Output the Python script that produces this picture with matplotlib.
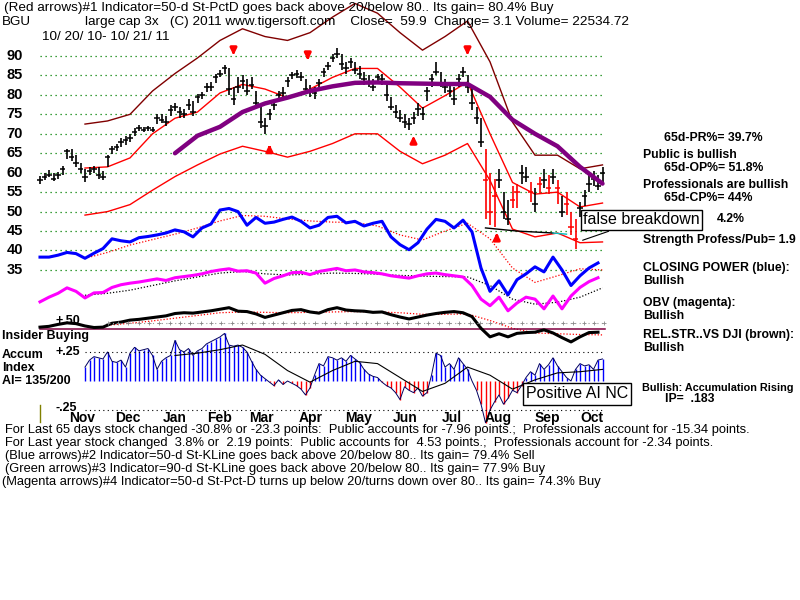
import numpy as np
import matplotlib
matplotlib.use('Agg')
import matplotlib.pyplot as plt

# ---- price bars, one bar per 2 trading days (10/20/10 - 10/21/11) ----
close = [58.0, 59.0, 59.5, 58.5, 59.5, 61.0, 65.5, 64.0, 62.5, 61.0,
         59.0, 60.5, 61.0, 59.5, 59.0, 64.0, 66.0, 66.5, 68.0, 68.5,
         69.0, 70.5, 71.5, 71.0, 71.5, 71.0, 74.0, 73.5, 73.0, 76.0,
         77.0, 75.5, 75.0, 77.5, 75.5, 79.5, 80.0, 82.0, 82.0, 84.5,
         85.5, 87.0, 81.5, 79.0, 82.0, 83.5, 81.0, 82.5, 78.0, 73.0,
         72.0, 75.0, 77.5, 80.0, 80.5, 83.5, 85.0, 85.5, 84.5, 81.5,
         81.0, 80.5, 83.0, 86.0, 87.5, 89.5, 90.5, 88.0, 87.0, 88.5,
         86.5, 85.5, 84.0, 83.0, 82.0, 84.5, 84.0, 80.0, 77.0, 75.5,
         74.0, 73.0, 72.5, 74.0, 76.5, 75.0, 81.0, 84.0, 86.0, 83.0,
         82.0, 81.0, 79.0, 84.0, 86.0, 82.0, 78.0, 74.0, 68.0, 58.0,
         50.0, 54.0, 58.0, 50.0, 48.0, 53.0, 55.0, 60.0, 59.0, 55.0,
         52.0, 57.0, 58.0, 56.0, 59.0, 56.0, 50.0, 52.0, 46.0, 43.0,
         51.0, 54.0, 57.0, 58.5, 56.5, 59.9]
high = [59.2, 60.0, 60.8, 59.8, 60.3, 61.8, 66.2, 66.0, 64.5, 62.5,
        61.0, 61.5, 61.8, 61.5, 60.5, 64.5, 66.8, 67.5, 68.8, 69.5,
        70.0, 71.5, 72.3, 71.8, 72.0, 71.8, 75.0, 75.2, 74.5, 77.3,
        78.0, 77.0, 76.5, 79.0, 78.5, 80.3, 80.8, 83.0, 83.3, 85.5,
        86.5, 87.8, 87.0, 82.0, 84.5, 85.0, 84.0, 84.5, 81.0, 77.0,
        74.0, 76.5, 78.5, 81.0, 82.0, 84.5, 86.0, 86.5, 86.0, 84.0,
        82.5, 82.0, 84.0, 87.0, 88.5, 90.5, 92.0, 90.5, 88.5, 89.5,
        88.5, 87.5, 86.0, 85.0, 84.0, 85.5, 85.5, 83.0, 79.5, 77.5,
        76.0, 75.0, 74.0, 75.5, 78.0, 77.0, 82.0, 85.5, 88.5, 86.0,
        84.0, 82.5, 82.0, 85.5, 87.3, 85.0, 82.0, 77.0, 74.0, 66.0,
        60.0, 58.5, 61.0, 55.0, 53.0, 56.5, 57.0, 62.0, 61.5, 57.5,
        56.0, 59.0, 61.0, 59.5, 61.0, 58.0, 54.0, 55.0, 50.0, 48.0,
        52.5, 55.5, 60.0, 60.5, 59.5, 61.5]
low = [57.0, 58.0, 58.8, 57.8, 58.5, 59.5, 63.5, 63.0, 61.5, 60.0,
       57.5, 59.5, 59.8, 58.5, 58.0, 61.5, 64.8, 65.5, 66.5, 67.2,
       68.0, 69.5, 70.8, 70.5, 70.8, 70.5, 72.5, 72.8, 72.0, 74.5,
       75.8, 74.0, 74.0, 76.0, 74.5, 78.0, 79.0, 80.8, 81.0, 83.0,
       84.5, 85.5, 80.0, 77.5, 80.5, 81.5, 80.0, 81.5, 77.0, 71.5,
       70.0, 73.5, 76.0, 78.5, 79.5, 82.0, 84.0, 84.3, 83.5, 80.5,
       79.5, 79.0, 81.5, 84.5, 86.5, 88.5, 89.5, 86.5, 85.5, 87.0,
       85.5, 84.0, 82.5, 82.0, 81.0, 83.0, 82.5, 78.5, 76.0, 74.0,
       73.0, 71.5, 71.0, 72.5, 74.5, 73.5, 78.5, 82.0, 85.0, 82.0,
       80.5, 79.5, 77.5, 82.0, 84.5, 80.5, 76.0, 72.5, 66.5, 48.0,
       46.5, 46.0, 56.0, 48.0, 46.5, 51.0, 51.0, 57.0, 57.5, 52.5,
       50.0, 54.5, 56.0, 54.5, 57.0, 52.0, 48.5, 49.0, 44.0, 40.3,
       48.5, 51.5, 55.0, 56.5, 55.5, 57.0]
red_bars = [99, 100, 101, 105, 106, 109, 111, 113, 115, 117, 118, 119]

# ---- bands and averages, one value per 10 trading days ----
upper_band = [np.nan, np.nan, 72.5, 73.3, 75.0, 81.0, 85.5, 89.5, 94.0, 97.0,
              95.0, 94.0, 96.0, 100.0, 103.5, 101.0, 96.0, 91.5, 95.0, 99.0,
              88.5, 73.0, 64.5, 64.5, 61.0, 62.0]
lower_band = [np.nan, np.nan, 49.1, 50.0, 51.8, 55.5, 59.0, 62.0, 64.8, 66.8,
              65.5, 64.0, 65.5, 67.5, 70.0, 70.0, 65.5, 62.3, 64.5, 67.5,
              58.0, 45.5, 43.5, 44.5, 42.0, 42.2]
inner_band = [np.nan, np.nan, 61.2, 61.5, 63.8, 70.0, 74.0, 75.6, 80.5, 82.7,
              81.5, 79.3, 81.5, 84.5, 86.8, 86.8, 82.0, 76.6, 79.8, 83.3,
              70.0, 57.5, 54.5, 55.0, 51.2, 52.2]
ma_purple = [np.nan, np.nan, np.nan, np.nan, np.nan, np.nan, 65.0, 69.5, 71.8, 75.6,
             77.8, 79.3, 81.0, 82.2, 83.1, 83.2, 83.0, 82.9, 82.8, 82.8,
             79.5, 73.6, 70.0, 66.8, 61.5, 57.2]
cp_ma = [np.nan, np.nan, 38.0, 39.5, 41.4, 42.8, 44.2, 45.8, 47.6, 49.0,
         48.8, 48.1, 47.6, 47.3, 47.2, 46.3, 44.0, 42.7, 45.0, 47.0,
         43.0, 35.5, 31.8, 33.5, 35.3, 35.0]
obv_ma = [np.nan, np.nan, 28.5, 29.0, 29.8, 31.0, 32.2, 33.2, 34.2, 34.6,
          34.0, 33.7, 33.9, 34.2, 34.1, 33.9, 33.6, 33.4, 33.3, 33.2,
          31.0, 27.5, 26.2, 26.7, 28.0, 30.4]
rs_ma = [np.nan, np.nan, np.nan, 20.8, 21.3, 21.9, 22.6, 23.3, 24.0, 24.2,
         24.1, 24.0, 24.1, 24.2, 24.3, 24.2, 24.0, 23.6, 23.6, 23.7,
         22.0, 20.0, 18.8, 18.6, 18.4, 18.3]
ai_ma = [np.nan, np.nan, np.nan, np.nan, np.nan, np.nan, 0.22, 0.24, 0.27, 0.31,
         0.23, 0.09, -0.01, 0.09, 0.17, 0.15, 0.03, -0.09, -0.02, 0.12,
         0.05, -0.07, 0.01, 0.07, 0.08, 0.10]

# ---- closing power, OBV, rel. strength, one value per 4 trading days ----
closing_power = [38.3, 38.3, 38.8, 39.5, 39.2, 38.0, 39.3, 40.5, 43.0, 42.5,
                 42.2, 43.3, 43.6, 44.0, 44.5, 45.3, 44.8, 43.5, 45.8, 46.8,
                 50.4, 50.8, 50.0, 46.5, 48.5, 47.0, 47.3, 48.0, 48.6, 47.5,
                 45.8, 46.5, 48.5, 48.8, 47.1, 47.5, 46.3, 47.0, 47.5, 43.5,
                 41.5, 40.2, 42.0, 45.5, 48.0, 47.5, 45.8, 47.8, 44.8, 35.5,
                 29.5, 32.2, 28.6, 32.5, 34.0, 35.8, 34.5, 38.3, 35.0, 31.0,
                 33.5, 35.5, 36.8]
obv = [26.8, 28.0, 29.0, 30.4, 29.5, 27.8, 29.1, 29.2, 30.5, 31.2,
       31.6, 31.9, 32.3, 32.7, 32.3, 33.0, 33.3, 33.6, 34.0, 34.6,
       35.0, 35.3, 34.7, 34.8, 34.2, 31.6, 32.8, 33.5, 34.3, 34.4,
       33.8, 34.6, 35.0, 35.4, 34.8, 35.0, 34.5, 34.3, 34.0, 33.5,
       33.2, 32.9, 33.5, 34.0, 34.2, 33.8, 33.5, 33.2, 31.0, 27.5,
       25.8, 28.0, 24.5, 26.5, 28.0, 27.5, 25.0, 28.3, 25.0, 28.3,
       30.5, 32.0, 33.0]
rel_strength = [20.3, 20.5, 21.0, 21.4, 21.2, 20.6, 20.2, 20.3, 21.3, 21.6,
                22.1, 22.3, 22.6, 22.9, 23.2, 23.8, 24.0, 23.9, 24.2, 24.5,
                24.9, 25.3, 24.4, 24.3, 23.7, 22.8, 23.4, 24.0, 24.6, 24.8,
                24.2, 23.9, 24.8, 25.3, 24.7, 24.5, 24.4, 24.1, 24.2, 23.5,
                22.9, 22.4, 22.9, 23.4, 23.8, 24.1, 24.3, 24.0, 23.0, 20.0,
                17.8, 18.6, 17.8, 18.7, 18.9, 19.0, 19.6, 18.8, 17.6, 16.5,
                17.8, 18.9, 19.0]

# ---- accumulation index, per bar from bar 10 on ----
accum = [0.12, 0.18, 0.21, 0.20, 0.19, 0.25, 0.17, 0.16, 0.18, 0.12,
         0.24, 0.29, 0.26, 0.27, 0.28, 0.22, 0.10, 0.17, 0.20, 0.22,
         0.35, 0.27, 0.25, 0.28, 0.22, 0.26, 0.28, 0.32, 0.34, 0.36,
         0.38, 0.41, 0.31, 0.30, 0.31, 0.29, 0.25, 0.17, 0.10, 0.05,
         0.02, -0.01, -0.04, 0.01, -0.03, 0.00, -0.02, -0.04, -0.07, -0.12,
         -0.06, 0.05, 0.15, 0.13, 0.21, 0.20, 0.18, 0.20, 0.17, 0.22,
         0.19, 0.16, 0.10, 0.06, 0.04, 0.03, -0.01, -0.04, -0.06, -0.10,
         -0.16, -0.05, -0.08, -0.10, -0.06, -0.13, -0.10, 0.05, 0.24, 0.22,
         0.12, 0.15, 0.10, 0.20, 0.15, 0.10, 0.00, -0.08, -0.20, -0.36,
         -0.25, -0.18, -0.12, -0.20, -0.15, -0.08, -0.10, -0.04, 0.03, 0.08,
         0.05, 0.15, 0.10, 0.14, 0.20, 0.13, 0.08, 0.03, 0.00, 0.10,
         0.15, 0.13, 0.14, 0.10, 0.18, 0.19]

# support line and signal arrows (bar index, price)
support_k = [99, 106, 114]
support_v = [45.8, 45.0, 44.5]
support2_k = [114, 117]
support2_v = [44.5, 44.2]
arrow_dn_k = [43, 59.5, 95]
arrow_dn_v = [89.5, 88.2, 89.5]
arrow_up_k = [51, 83, 101.5]
arrow_up_v = [68.0, 70.2, 45.3]

months = ['Nov', 'Dec', 'Jan', 'Feb', 'Mar', 'Apr', 'May', 'Jun', 'Jul', 'Aug', 'Sep', 'Oct']
month_k = [9.3, 19.6, 30.0, 40.0, 49.3, 60.2, 70.7, 81.1, 91.6, 101.8, 112.7, 122.7]
price_ticks = [90, 85, 80, 75, 70, 65, 60, 55, 50, 45, 40, 35]

SANS = ['Liberation Sans', 'DejaVu Sans']

fig = plt.figure(figsize=(8, 6), dpi=100)
fig.patch.set_facecolor('white')


def ftext(x, y, s, **kw):
    kw.setdefault('va', 'center')
    kw.setdefault('family', SANS)
    return fig.text(x / 800, 1 - y / 600, s, **kw)


# main panel: x = bar index, y = price scale (whole figure)
ax = fig.add_axes([0, 0, 1, 1])
ax.set_xlim(-40 / 4.5, 760 / 4.5)
ax.set_ylim(90 - 544 / 3.89, 90 + 56 / 3.89)
ax.axis('off')

# accumulation panel shares x
ax2 = fig.add_axes([0, 0, 1, 1], sharex=ax)
ax2.set_ylim(-219 / 116, 381 / 116)
ax2.axis('off')
ax2.patch.set_alpha(0)

k = np.arange(len(close))
kj = np.arange(len(upper_band)) * 5
km = np.arange(len(closing_power)) * 2

for t in price_ticks:
    ax.plot([0, 125.5], [t, t], color='#008000', lw=0.9, ls=(0, (1, 3)), zorder=1)
    ax.text(-5.6, t, str(t), ha='center', va='center', fontsize=10.5,
            fontweight='bold', family=SANS)

ax.plot(kj, upper_band, color='#800000', lw=1.0, zorder=2)
ax.plot(kj, lower_band, color='#ff0000', lw=1.0, zorder=2)
ax.plot(kj, inner_band, color='#ff0000', lw=1.0, zorder=2)

colors = ['#ff0000' if i in red_bars else 'black' for i in k]
ax.vlines(k, low, high, colors=colors, lw=1.2, zorder=3)
ax.hlines(close, k - 0.6, k + 0.6, colors=colors, lw=1.1, zorder=3)

ax.plot(kj, ma_purple, color='#800080', lw=3.2, zorder=4, solid_capstyle='round')
ax.plot(support_k, support_v, color='black', lw=1.0, zorder=3)
ax.plot(support2_k, support2_v, color='#00c0c0', lw=1.0, zorder=3)

for xk, v in zip(arrow_dn_k, arrow_dn_v):
    ax.annotate('', xy=(xk, v), xytext=(xk, v + 2.7),
                arrowprops=dict(arrowstyle='-|>', color='red', lw=2.2, mutation_scale=9))
for xk, v in zip(arrow_up_k, arrow_up_v):
    ax.annotate('', xy=(xk, v), xytext=(xk, v - 2.9),
                arrowprops=dict(arrowstyle='-|>', color='red', lw=2.2, mutation_scale=9))

# closing power, OBV, relative strength
ax.plot(kj, cp_ma, color='#ff0000', lw=0.9, ls=(0, (1, 1.5)), zorder=2)
ax.plot(km, closing_power, color='#0000ff', lw=2.2, zorder=3)
ax.plot(kj, obv_ma, color='black', lw=0.9, ls=(0, (1, 1.5)), zorder=2)
ax.plot(km, obv, color='#ff00ff', lw=2.2, zorder=3)
ax.plot(kj, rs_ma, color='#ff0000', lw=0.9, ls=(0, (1, 1.5)), zorder=2)
ax.plot(km, rel_strength, color='black', lw=2.2, zorder=3)
ax.plot([0, 125.5], [19.8, 19.8], color='#800040', lw=1.1, zorder=2)

# accumulation index
ka = np.arange(10, 10 + len(accum))
ai_col = ['#0000ff' if a >= 0 else '#ff0000' for a in accum]
ax2.vlines(ka, 0, accum, colors=ai_col, lw=1.0)
ax2.plot(ka, accum, color='#000060', lw=0.7)
ax2.plot(kj, ai_ma, color='black', lw=0.8)
ax2.plot([15, 125.5], [0.5, 0.5], color='#999999', lw=0.8, ls=(0, (1, 3)))
cross_k = np.arange(15, 126, 2.3)
ax2.plot(cross_k, np.full(len(cross_k), 0.5), ls='none', marker='+', ms=3,
         color='#888888', mew=0.6)
for lvl in (0.25, -0.25):
    ax2.plot([10, 125.5], [lvl, lvl], color='black', lw=0.8, ls=(0, (1, 3)))
ax2.axvline(0, ymin=1 - 422 / 600, ymax=1 - 405 / 600, color='#808000', lw=1)

for m, mk in zip(months, month_k):
    ax2.text(mk, -0.32, m, ha='center', va='center', fontsize=10,
             fontweight='bold', family=SANS)

# annotation boxes
ax.annotate('false breakdown', xy=(120, 42.4), xycoords='data',
            xytext=(583 / 800, 1 - 220 / 600), textcoords='figure fraction',
            ha='left', va='center', fontsize=11.5, family=SANS,
            bbox=dict(boxstyle='square,pad=0.15', fc='white', ec='black', lw=1),
            arrowprops=dict(arrowstyle='-', color='black', lw=0.8), zorder=6)
ftext(526, 394, 'Positive AI NC', ha='left', fontsize=11.5,
      bbox=dict(boxstyle='square,pad=0.2', fc='white', ec='black', lw=1))

# header
ftext(4, 8, '(Red arrows)#1 Indicator=50-d St-PctD goes back above 20/below 80.. Its gain= 80.4% Buy',
      fontsize=9.7)
ftext(2, 22, 'BGU', fontsize=9.7)
ftext(85, 22, 'large cap 3x   (C) 2011 www.tigersoft.com    Close=  59.9  Change= 3.1 Volume= 22534.72',
      fontsize=9.7)
ftext(42, 37, '10/ 20/ 10- 10/ 21/ 11', fontsize=9.7)

# left labels
for x, y, s in [(55, 321, '+.50'), (2, 336, 'Insider Buying'), (2, 355, 'Accum'),
                (55, 352, '+.25'), (2, 368, 'Index'), (2, 381, 'AI= 135/200'),
                (55, 408, '-.25')]:
    ftext(x, y, s, fontsize=9, fontweight='bold')

# right side labels
right = [(664, 138, '65d-PR%= 39.7%'), (643, 155, 'Public is bullish'),
         (664, 168, '65d-OP%= 51.8%'), (643, 185, 'Professionals are bullish'),
         (664, 198, '65d-CP%= 44%'), (717, 219, '4.2%'),
         (643, 240, 'Strength Profess/Pub= 1.9'),
         (643, 268, 'CLOSING POWER (blue):'), (643, 281, 'Bullish'),
         (643, 303, 'OBV (magenta):'), (643, 316, 'Bullish'),
         (643, 335, 'REL.STR..VS DJI (brown):'), (643, 348, 'Bullish'),
         (665, 399, 'IP=  .183')]
for x, y, s in right:
    ftext(x, y, s, fontsize=8.8, fontweight='bold')
ftext(642, 388, 'Bullish: Accumulation Rising', fontsize=7.8, fontweight='bold')

# footer
footer = ['For Last 65 days stock changed -30.8% or -23.3 points:  Public accounts for -7.96 points.;  Professionals account for -15.34 points.',
          'For Last year stock changed  3.8% or  2.19 points:  Public accounts for  4.53 points.;  Professionals account for -2.34 points.',
          '(Blue arrows)#2 Indicator=50-d St-KLine goes back above 20/below 80.. Its gain= 79.4% Sell',
          '(Green arrows)#3 Indicator=90-d St-KLine goes back above 20/below 80.. Its gain= 77.9% Buy',
          '(Magenta arrows)#4 Indicator=50-d St-Pct-D turns up below 20/turns down over 80.. Its gain= 74.3% Buy']
for i, s in enumerate(footer):
    ftext(5 if i < 4 else 2, 430 + 13 * i, s, fontsize=9.3)

fig.savefig('out.png', dpi=100, facecolor='white')
